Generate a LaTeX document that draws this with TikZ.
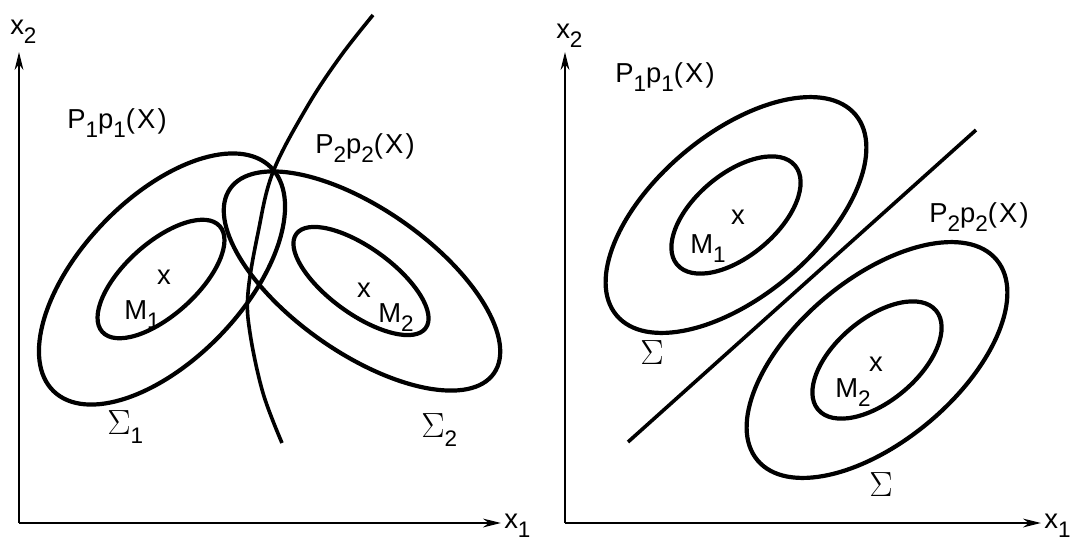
\documentclass[tikz,border=0pt]{standalone}
\usepackage{fontspec}
\newfontfamily\lblfont[LetterSpace=8]{Liberation Sans}
\usetikzlibrary{arrows.meta}
\newcommand\lowsub[1]{\raisebox{-6.5pt}{\fontsize{16}{16}\selectfont #1}}

\begin{document}
\begin{tikzpicture}[x=0.25mm,y=-0.25mm,
  lbl/.style={font=\lblfont\fontsize{19.5}{19.5}\selectfont,inner sep=0pt,anchor=base west},
  mk/.style={font=\lblfont\fontsize{19.5}{19.5}\selectfont,inner sep=0pt},
  sig/.style={font=\fontsize{28}{28}\selectfont,inner sep=0pt,anchor=base west},
  contour/.style={line width=1.05mm},
  bnd/.style={line width=0.9mm},
  axis/.style={line width=0.45mm,-{Stealth[length=4.5mm,width=2.2mm]}}]
  \useasboundingbox (0,0) rectangle (1072,541);
  % left: two different covariances
  \coordinate (oL) at (19,523); \coordinate (x2L) at (19,52); \coordinate (x1L) at (501,523);
  \draw[axis] (oL) -- (x2L);
  \draw[axis] (oL) -- (x1L);
  \node[lbl] (lx2L) at (10,34) {x\lowsub{2}};
  \node[lbl] (lx1L) at (504,528) {x\lowsub{1}};
  \draw[contour,rotate around={46:(162,279)}] (162,279) ellipse[x radius=156,y radius=81];
  \draw[contour,rotate around={42:(161,279)}] (161,279) ellipse[x radius=79,y radius=36];
  \draw[contour,rotate around={-35:(362,281)}] (362,281) ellipse[x radius=161,y radius=72];
  \draw[contour,rotate around={-36:(361,281)}] (361,281) ellipse[x radius=80,y radius=33];
  \draw[bnd] plot[smooth,tension=0.6] coordinates {(373,15) (340,57) (307,107) (273,172) (258,233) (248,293) (250,333) (263,393) (282,443)};
  \node[lbl] (p1L) at (67,128) {P\lowsub{1}p\lowsub{1}(X)};
  \node[lbl] (p2L) at (315,153) {P\lowsub{2}p\lowsub{2}(X)};
  \node[mk] (m1xL) at (164,277) {x};
  \node[lbl] (m1L) at (124,319) {M\lowsub{1}};
  \node[mk] (m2xL) at (364,290) {x};
  \node[lbl] (m2L) at (378,322) {M\lowsub{2}};
  \node[sig] (s1L) at (107,434) {$\Sigma$\lowsub{\lblfont 1}};
  \node[sig] (s2L) at (421,437) {$\Sigma$\lowsub{\lblfont 2}};
  % right: equal covariances
  \coordinate (oR) at (565,523); \coordinate (x2R) at (565,52); \coordinate (x1R) at (1041,523);
  \draw[axis] (oR) -- (x2R);
  \draw[axis] (oR) -- (x1R);
  \node[lbl] (lx2R) at (556,38) {x\lowsub{2}};
  \node[lbl] (lx1R) at (1044,528) {x\lowsub{1}};
  \draw[contour,rotate around={40:(736,215)}] (736,215) ellipse[x radius=156,y radius=81];
  \draw[contour,rotate around={40:(736,215)}] (736,215) ellipse[x radius=77,y radius=41];
  \draw[contour,rotate around={40:(877,360)}] (877,360) ellipse[x radius=156,y radius=81];
  \draw[contour,rotate around={40:(877,360)}] (877,360) ellipse[x radius=77,y radius=41];
  \coordinate (dA) at (628,442); \coordinate (dB) at (976,130);
  \draw[bnd] (dA) -- (dB);
  \node[lbl] (p1R) at (615,82) {P\lowsub{1}p\lowsub{1}(X)};
  \node[lbl] (p2R) at (929,222) {P\lowsub{2}p\lowsub{2}(X)};
  \node[mk] (m1xR) at (738,217) {x};
  \node[lbl] (m1R) at (690,253) {M\lowsub{1}};
  \node[mk] (m2xR) at (876,364) {x};
  \node[lbl] (m2R) at (835,397) {M\lowsub{2}};
  \node[sig] (sR) at (640,364) {$\Sigma$};
  \node[sig] (sR2) at (869,496) {$\Sigma$};
\end{tikzpicture}
\end{document}
